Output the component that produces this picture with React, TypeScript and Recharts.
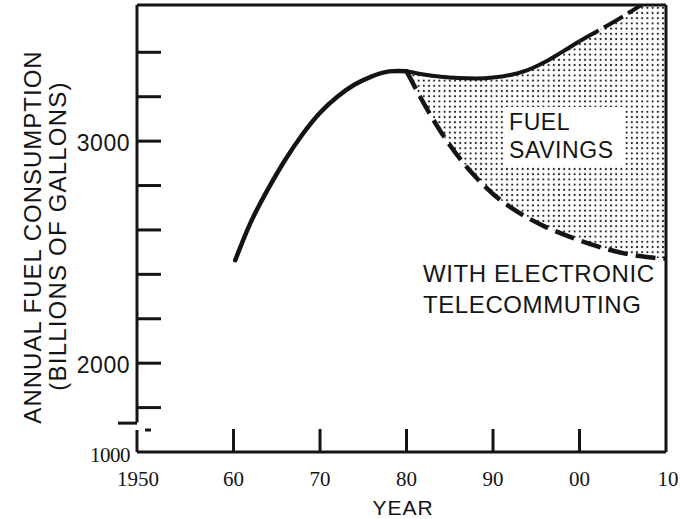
import React from "react";
import {
  ComposedChart, Line, Area, XAxis, YAxis, ReferenceLine,
} from "recharts";

const INK = "#141414";
const SANS = "'Liberation Sans', Arial, sans-serif";
const SERIF = "'Liberation Serif', serif";

// historical consumption (billions of gallons)
const HIST_YEARS = [1960.2, 1962, 1964, 1966, 1968, 1970, 1972, 1974, 1976, 1978, 1980];
const HIST_VALUES = [2464, 2635, 2785, 2917, 3032, 3128, 3200, 3255, 3292, 3314, 3315];

// projections
const PROJ_YEARS = [1980, 1982, 1984, 1986, 1988, 1990, 1992, 1994, 1996, 1998, 2000, 2002, 2004, 2006, 2008, 2010];
const BASE_VALUES = [3315, 3300, 3290, 3284, 3282, 3286, 3298, 3320, 3356, 3402, 3450, 3494, 3538, 3585, 3635, 3690];
const TELE_VALUES = [3315, 3170, 3040, 2930, 2838, 2762, 2703, 2655, 2615, 2582, 2553, 2527, 2505, 2488, 2477, 2470];

const X_TICKS = [1950, 1960, 1970, 1980, 1990, 2000, 2010];
const X_TICK_LABELS = ["1950", "60", "70", "80", "90", "00", "10"];

// lower edge of the broken axis is labelled 1000
const Y_MIN = 1600;
const Y_MAX = 3613;
const X_MIN = 1948.84;
const X_MAX = 2010;
const Y_TICKS = [Y_MIN, 1800, 2000, 2200, 2400, 2600, 2800, 3000, 3200, 3400];
const Y_TICK_LABELS: Record<number, string> = { [Y_MIN]: "1000", 2000: "2000", 3000: "3000" };

const histData = HIST_YEARS.map((year, i) => ({ year, value: HIST_VALUES[i] }));
const projData = PROJ_YEARS.map((year, i) => ({
  year,
  base: BASE_VALUES[i],
  tele: TELE_VALUES[i],
  range: [TELE_VALUES[i], BASE_VALUES[i]],
}));
const baseSolid = projData.filter((d) => d.year <= 2000);
const baseDashed = projData.filter((d) => d.year >= 2000);

function YTick({ x, y, payload }: any) {
  const label = Y_TICK_LABELS[payload.value];
  const bottom = payload.value === Y_MIN;
  return (
    <g>
      {!bottom && <line x1={x} x2={x + 24} y1={y} y2={y} stroke={INK} strokeWidth={3} />}
      {bottom && <path d={`M${x} ${y} V${y - 22} M${x + 8} ${y - 22} h6`} stroke={INK} strokeWidth={3} fill="none" />}
      {label && (
        <text
          x={x - 7}
          y={y + 2}
          dy="0.36em"
          textAnchor="end"
          fill={INK}
          fontFamily={bottom ? SERIF : SANS}
          fontSize={bottom ? 21 : 23}
          letterSpacing={bottom ? -0.5 : 0.5}
        >
          {label}
        </text>
      )}
    </g>
  );
}

function XTick({ x, y, payload }: any) {
  const v = payload.value;
  const mark = v > 1950 && v < 2010;
  const shift = v === 1950 ? -9 : v === 2010 ? 2 : 0;
  return (
    <g>
      {mark && <line x1={x} x2={x} y1={y} y2={y - 23} stroke={INK} strokeWidth={3} />}
      <text x={x + shift} y={y + 34} textAnchor="middle" fill={INK} fontFamily={SERIF} fontSize={21}>
        {X_TICK_LABELS[X_TICKS.indexOf(v)]}
      </text>
    </g>
  );
}

export default function App() {
  return (
    <div style={{ position: "absolute", left: 0, top: 0, width: 689, height: 519, background: "#fff" }}>
      <ComposedChart width={689} height={519} margin={{ top: 5, right: 23, left: 0, bottom: 0 }}>
        <defs>
          <pattern id="dots" width="5.2" height="5.2" patternUnits="userSpaceOnUse">
            <circle cx="2.6" cy="2.6" r="1.1" fill="#222" />
          </pattern>
        </defs>
        <XAxis
          type="number"
          dataKey="year"
          domain={[X_MIN, X_MAX]}
          ticks={X_TICKS}
          height={67}
          axisLine={false}
          tickLine={false}
          tickSize={0}
          tickMargin={0}
          tick={<XTick />}
          allowDataOverflow
        />
        <YAxis
          type="number"
          domain={[Y_MIN, Y_MAX]}
          ticks={Y_TICKS}
          width={137}
          axisLine={false}
          tickLine={false}
          tickSize={0}
          tickMargin={0}
          tick={<YTick />}
          allowDataOverflow
        />
        <Area
          data={projData}
          dataKey="range"
          type="monotone"
          stroke="none"
          fill="url(#dots)"
          fillOpacity={1}
          isAnimationActive={false}
        />
        <Line data={histData} dataKey="value" type="natural" stroke={INK} strokeWidth={4.5} strokeLinecap="round" dot={false} isAnimationActive={false} />
        <Line data={baseSolid} dataKey="base" type="monotone" stroke={INK} strokeWidth={4} dot={false} isAnimationActive={false} />
        <Line data={baseDashed} dataKey="base" type="monotone" stroke={INK} strokeWidth={4} strokeDasharray="22 6" dot={false} isAnimationActive={false} />
        <Line data={projData} dataKey="tele" type="monotone" stroke={INK} strokeWidth={4.5} strokeDasharray="20 8" dot={false} isAnimationActive={false} />
        {/* frame with broken left axis */}
        <ReferenceLine segment={[{ x: X_MIN, y: 1733 }, { x: X_MIN, y: Y_MAX }]} stroke={INK} strokeWidth={3} ifOverflow="visible" />
        <ReferenceLine segment={[{ x: X_MIN - 2.2, y: 1730 }, { x: X_MIN, y: 1730 }]} stroke={INK} strokeWidth={3} ifOverflow="visible" />
        <ReferenceLine segment={[{ x: X_MIN, y: Y_MIN }, { x: X_MAX, y: Y_MIN }]} stroke={INK} strokeWidth={3} ifOverflow="visible" />
        <ReferenceLine segment={[{ x: X_MIN, y: Y_MAX }, { x: X_MAX, y: Y_MAX }]} stroke={INK} strokeWidth={3} ifOverflow="visible" />
        <ReferenceLine segment={[{ x: X_MAX, y: Y_MIN }, { x: X_MAX, y: Y_MAX }]} stroke={INK} strokeWidth={3} ifOverflow="visible" />
      </ComposedChart>
      <svg width={689} height={519} style={{ position: "absolute", left: 0, top: 0, pointerEvents: "none" }}>
        <g fill={INK} fontFamily={SANS}>
          <text transform="translate(41 237) rotate(-90)" textAnchor="middle" fontSize={24} letterSpacing={1}>ANNUAL FUEL CONSUMPTION</text>
          <text transform="translate(66 236) rotate(-90)" textAnchor="middle" fontSize={24} letterSpacing={1.2}>(BILLIONS OF GALLONS)</text>
          <text x={403} y={515} textAnchor="middle" fontSize={21} letterSpacing={1}>YEAR</text>
          <rect x={505} y={107} width={118} height={58} fill="#fff" />
          <text x={509} y={130} fontSize={23} letterSpacing={0.6}>FUEL</text>
          <text x={509} y={158} fontSize={23} letterSpacing={0.6}>SAVINGS</text>
          <text x={423} y={282} fontSize={24} letterSpacing={0.6}>WITH ELECTRONIC</text>
          <text x={423} y={313} fontSize={24} letterSpacing={0.6}>TELECOMMUTING</text>
        </g>
      </svg>
    </div>
  );
}
